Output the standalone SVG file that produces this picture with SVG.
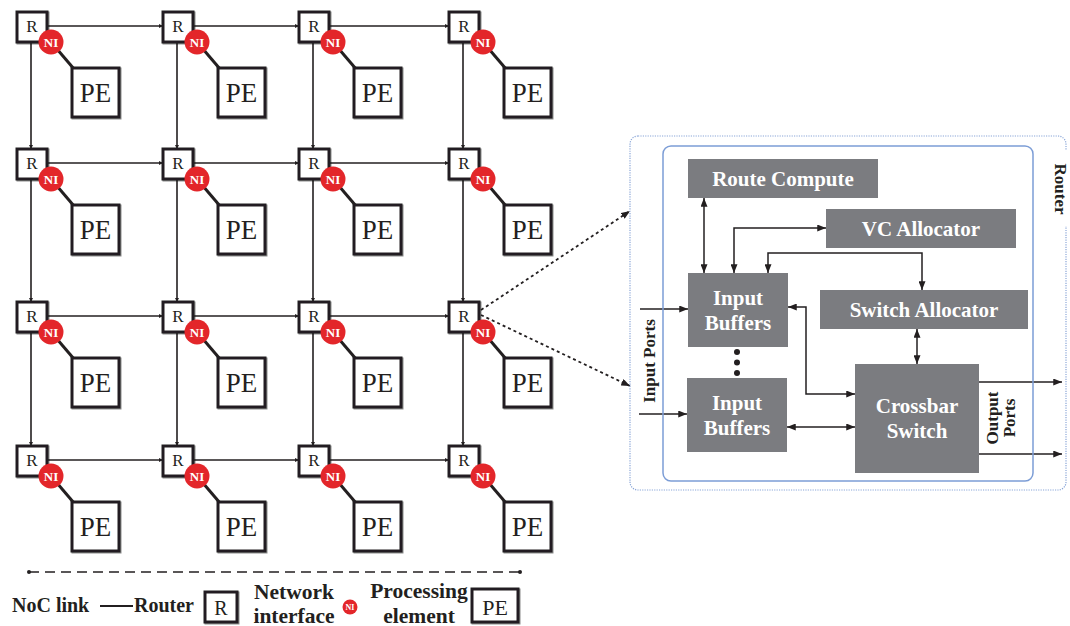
<svg xmlns="http://www.w3.org/2000/svg" width="1070" height="626" viewBox="0 0 1070 626">
<defs>
<style>
.box{fill:#fff;stroke:#231f20;stroke-width:3;filter:url(#sh)}
.lnk{stroke:#231f20;stroke-width:1.6;fill:none}
.niL{stroke:#231f20;stroke-width:3}
.ni{fill:#e3262a}
.r{font-family:"Liberation Serif",serif;font-size:17px;fill:#231f20;text-anchor:middle}
.pe{font-family:"Liberation Serif",serif;font-size:27px;fill:#231f20;text-anchor:middle}
.nit{font-family:"Liberation Serif",serif;font-size:13px;font-weight:bold;fill:#fff;text-anchor:middle}
.blk{fill:#7b7c80}
.bt{font-family:"Liberation Serif",serif;font-size:21px;font-weight:bold;fill:#fff;text-anchor:middle}
.arr{stroke:#231f20;stroke-width:1.5;fill:none;marker-end:url(#ah);marker-start:url(#ahs)}
.arr1{stroke:#231f20;stroke-width:1.5;fill:none;marker-end:url(#ah)}
.dot{stroke:#231f20;stroke-width:1.8;fill:none;stroke-dasharray:3 3;marker-end:url(#ah)}
.lbl{font-family:"Liberation Serif",serif;font-size:17px;font-weight:bold;fill:#231f20;text-anchor:middle}
.leg{font-family:"Liberation Serif",serif;font-size:20px;font-weight:bold;fill:#231f20}
.leg2{font-family:"Liberation Serif",serif;font-size:21.5px;font-weight:bold;fill:#231f20;text-anchor:middle}
</style>
<filter id="sh" x="-20%" y="-20%" width="140%" height="140%"><feDropShadow dx="1" dy="1" stdDeviation="0.7" flood-color="#000" flood-opacity="0.45"/></filter>
<marker id="ah" viewBox="0 0 10 8" refX="10" refY="4" markerWidth="9" markerHeight="7" markerUnits="userSpaceOnUse" orient="auto"><path d="M0,0 L10,4 L0,8 z" fill="#231f20"/></marker>
<marker id="ahs" viewBox="0 0 10 8" refX="0" refY="4" markerWidth="9" markerHeight="7" markerUnits="userSpaceOnUse" orient="auto"><path d="M10,0 L0,4 L10,8 z" fill="#231f20"/></marker>
<marker id="gm" viewBox="0 0 6 6" refX="6" refY="3" markerWidth="4" markerHeight="4" markerUnits="userSpaceOnUse" orient="auto"><path d="M0,0 L6,3 L0,6 z" fill="#231f20"/></marker>
</defs>
<rect width="1070" height="626" fill="#fff"/>

<g id="connectors">
<g class="lnk" marker-end="url(#gm)">
<line x1="47" y1="26" x2="163" y2="26"/><line x1="193" y1="26" x2="299" y2="26"/><line x1="329" y1="26" x2="449" y2="26"/>
<line x1="47" y1="163" x2="163" y2="163"/><line x1="193" y1="163" x2="299" y2="163"/><line x1="329" y1="163" x2="449" y2="163"/>
<line x1="47" y1="316" x2="163" y2="316"/><line x1="193" y1="316" x2="299" y2="316"/><line x1="329" y1="316" x2="449" y2="316"/>
<line x1="47" y1="460" x2="163" y2="460"/><line x1="193" y1="460" x2="299" y2="460"/><line x1="329" y1="460" x2="449" y2="460"/>
<line x1="31" y1="42" x2="31" y2="149"/><line x1="31" y1="179" x2="31" y2="302"/><line x1="31" y1="332" x2="31" y2="446"/>
<line x1="177" y1="42" x2="177" y2="149"/><line x1="177" y1="179" x2="177" y2="302"/><line x1="177" y1="332" x2="177" y2="446"/>
<line x1="313" y1="42" x2="313" y2="149"/><line x1="313" y1="179" x2="313" y2="302"/><line x1="313" y1="332" x2="313" y2="446"/>
<line x1="463" y1="42" x2="463" y2="149"/><line x1="463" y1="179" x2="463" y2="302"/><line x1="463" y1="332" x2="463" y2="446"/>
</g>
<path class="dot" d="M481,310 L630,211"/>
<path class="dot" d="M481,315 L630,386"/>
<path class="arr" d="M704,198 V273"/>
<path class="arr" d="M734,273 V228 H826"/>
<path class="arr" d="M768,273 V253 H922 V290"/>
<path class="arr" d="M917,329 V364"/>
<path class="arr" d="M788,307 H806 V394 H855"/>
<path class="arr" d="M787,427 H855"/>
<path class="arr1" d="M640,309 H688"/>
<path class="arr1" d="M639,414 H687"/>
<path class="arr1" d="M979,382 H1062"/>
<path class="arr1" d="M979,454 H1062"/>
</g>

<g id="tile-r1c1" transform="translate(17,12)"><line class="niL" x1="34" y1="30" x2="57" y2="57"/><rect class="box" x="55" y="56" width="47" height="49"/><text class="pe" x="78.5" y="90">PE</text><rect class="box" width="30" height="30"/><text class="r" x="15" y="20">R</text><circle class="ni" cx="34" cy="30" r="12.5"/><text class="nit" x="34" y="34.5">NI</text></g>
<g id="tile-r1c2" transform="translate(163,12)"><line class="niL" x1="34" y1="30" x2="57" y2="57"/><rect class="box" x="55" y="56" width="47" height="49"/><text class="pe" x="78.5" y="90">PE</text><rect class="box" width="30" height="30"/><text class="r" x="15" y="20">R</text><circle class="ni" cx="34" cy="30" r="12.5"/><text class="nit" x="34" y="34.5">NI</text></g>
<g id="tile-r1c3" transform="translate(299,12)"><line class="niL" x1="34" y1="30" x2="57" y2="57"/><rect class="box" x="55" y="56" width="47" height="49"/><text class="pe" x="78.5" y="90">PE</text><rect class="box" width="30" height="30"/><text class="r" x="15" y="20">R</text><circle class="ni" cx="34" cy="30" r="12.5"/><text class="nit" x="34" y="34.5">NI</text></g>
<g id="tile-r1c4" transform="translate(449,12)"><line class="niL" x1="34" y1="30" x2="57" y2="57"/><rect class="box" x="55" y="56" width="47" height="49"/><text class="pe" x="78.5" y="90">PE</text><rect class="box" width="30" height="30"/><text class="r" x="15" y="20">R</text><circle class="ni" cx="34" cy="30" r="12.5"/><text class="nit" x="34" y="34.5">NI</text></g>

<g id="tile-r2c1" transform="translate(17,149)"><line class="niL" x1="34" y1="30" x2="57" y2="57"/><rect class="box" x="55" y="56" width="47" height="49"/><text class="pe" x="78.5" y="90">PE</text><rect class="box" width="30" height="30"/><text class="r" x="15" y="20">R</text><circle class="ni" cx="34" cy="30" r="12.5"/><text class="nit" x="34" y="34.5">NI</text></g>
<g id="tile-r2c2" transform="translate(163,149)"><line class="niL" x1="34" y1="30" x2="57" y2="57"/><rect class="box" x="55" y="56" width="47" height="49"/><text class="pe" x="78.5" y="90">PE</text><rect class="box" width="30" height="30"/><text class="r" x="15" y="20">R</text><circle class="ni" cx="34" cy="30" r="12.5"/><text class="nit" x="34" y="34.5">NI</text></g>
<g id="tile-r2c3" transform="translate(299,149)"><line class="niL" x1="34" y1="30" x2="57" y2="57"/><rect class="box" x="55" y="56" width="47" height="49"/><text class="pe" x="78.5" y="90">PE</text><rect class="box" width="30" height="30"/><text class="r" x="15" y="20">R</text><circle class="ni" cx="34" cy="30" r="12.5"/><text class="nit" x="34" y="34.5">NI</text></g>
<g id="tile-r2c4" transform="translate(449,149)"><line class="niL" x1="34" y1="30" x2="57" y2="57"/><rect class="box" x="55" y="56" width="47" height="49"/><text class="pe" x="78.5" y="90">PE</text><rect class="box" width="30" height="30"/><text class="r" x="15" y="20">R</text><circle class="ni" cx="34" cy="30" r="12.5"/><text class="nit" x="34" y="34.5">NI</text></g>

<g id="tile-r3c1" transform="translate(17,302)"><line class="niL" x1="34" y1="30" x2="57" y2="57"/><rect class="box" x="55" y="56" width="47" height="49"/><text class="pe" x="78.5" y="90">PE</text><rect class="box" width="30" height="30"/><text class="r" x="15" y="20">R</text><circle class="ni" cx="34" cy="30" r="12.5"/><text class="nit" x="34" y="34.5">NI</text></g>
<g id="tile-r3c2" transform="translate(163,302)"><line class="niL" x1="34" y1="30" x2="57" y2="57"/><rect class="box" x="55" y="56" width="47" height="49"/><text class="pe" x="78.5" y="90">PE</text><rect class="box" width="30" height="30"/><text class="r" x="15" y="20">R</text><circle class="ni" cx="34" cy="30" r="12.5"/><text class="nit" x="34" y="34.5">NI</text></g>
<g id="tile-r3c3" transform="translate(299,302)"><line class="niL" x1="34" y1="30" x2="57" y2="57"/><rect class="box" x="55" y="56" width="47" height="49"/><text class="pe" x="78.5" y="90">PE</text><rect class="box" width="30" height="30"/><text class="r" x="15" y="20">R</text><circle class="ni" cx="34" cy="30" r="12.5"/><text class="nit" x="34" y="34.5">NI</text></g>
<g id="tile-r3c4" transform="translate(449,302)"><line class="niL" x1="34" y1="30" x2="57" y2="57"/><rect class="box" x="55" y="56" width="47" height="49"/><text class="pe" x="78.5" y="90">PE</text><rect class="box" width="30" height="30"/><text class="r" x="15" y="20">R</text><circle class="ni" cx="34" cy="30" r="12.5"/><text class="nit" x="34" y="34.5">NI</text></g>

<g id="tile-r4c1" transform="translate(17,446)"><line class="niL" x1="34" y1="30" x2="57" y2="57"/><rect class="box" x="55" y="56" width="47" height="49"/><text class="pe" x="78.5" y="90">PE</text><rect class="box" width="30" height="30"/><text class="r" x="15" y="20">R</text><circle class="ni" cx="34" cy="30" r="12.5"/><text class="nit" x="34" y="34.5">NI</text></g>
<g id="tile-r4c2" transform="translate(163,446)"><line class="niL" x1="34" y1="30" x2="57" y2="57"/><rect class="box" x="55" y="56" width="47" height="49"/><text class="pe" x="78.5" y="90">PE</text><rect class="box" width="30" height="30"/><text class="r" x="15" y="20">R</text><circle class="ni" cx="34" cy="30" r="12.5"/><text class="nit" x="34" y="34.5">NI</text></g>
<g id="tile-r4c3" transform="translate(299,446)"><line class="niL" x1="34" y1="30" x2="57" y2="57"/><rect class="box" x="55" y="56" width="47" height="49"/><text class="pe" x="78.5" y="90">PE</text><rect class="box" width="30" height="30"/><text class="r" x="15" y="20">R</text><circle class="ni" cx="34" cy="30" r="12.5"/><text class="nit" x="34" y="34.5">NI</text></g>
<g id="tile-r4c4" transform="translate(449,446)"><line class="niL" x1="34" y1="30" x2="57" y2="57"/><rect class="box" x="55" y="56" width="47" height="49"/><text class="pe" x="78.5" y="90">PE</text><rect class="box" width="30" height="30"/><text class="r" x="15" y="20">R</text><circle class="ni" cx="34" cy="30" r="12.5"/><text class="nit" x="34" y="34.5">NI</text></g>

<g id="router-detail">
<rect x="630" y="136" width="436" height="354" rx="8" fill="none" stroke="#8aa6d8" stroke-width="1.2" stroke-dasharray="1.2 1.2"/>
<rect x="663" y="146" width="370" height="335" rx="8" fill="none" stroke="#7c9dd6" stroke-width="1.5"/>
<rect x="1052" y="150" width="18" height="76" fill="#fff"/>
<text class="lbl" transform="translate(1055,189) rotate(90)" style="font-size:17px">Router</text>
</g>

<g id="route-compute"><rect class="blk" x="688" y="159" width="190" height="39"/><text class="bt" x="783" y="186">Route Compute</text></g>
<g id="vc-allocator"><rect class="blk" x="826" y="209" width="190" height="39"/><text class="bt" x="921" y="236">VC Allocator</text></g>
<g id="input-buffers-1"><rect class="blk" x="688" y="273" width="100" height="74"/><text class="bt" x="738" y="305">Input</text><text class="bt" x="738" y="330">Buffers</text></g>
<g id="switch-allocator"><rect class="blk" x="820" y="290" width="208" height="39"/><text class="bt" x="924" y="317">Switch Allocator</text></g>
<g id="dots"><circle cx="737" cy="352" r="3" fill="#231f20"/><circle cx="737" cy="362.5" r="3" fill="#231f20"/><circle cx="737" cy="373" r="3" fill="#231f20"/></g>
<g id="input-buffers-2"><rect class="blk" x="687" y="378" width="100" height="74"/><text class="bt" x="737" y="410">Input</text><text class="bt" x="737" y="435">Buffers</text></g>
<g id="crossbar"><rect class="blk" x="855" y="364" width="124" height="109"/><text class="bt" x="917" y="413">Crossbar</text><text class="bt" x="917" y="438">Switch</text></g>
<g id="input-ports-label"><text class="lbl" transform="translate(655,361) rotate(-90)">Input Ports</text></g>
<g id="output-ports-label"><text class="lbl" transform="translate(998,418) rotate(-90)">Output</text><text class="lbl" transform="translate(1015,418) rotate(-90)">Ports</text></g>

<g id="legend">
<line x1="29" y1="572" x2="520" y2="572" stroke="#231f20" stroke-width="1.6" stroke-dasharray="10 6"/>
<circle cx="29" cy="572" r="2" fill="#231f20"/><circle cx="520" cy="572" r="2" fill="#231f20"/>
<text class="leg" x="12" y="612">NoC link</text>
<line x1="100" y1="606" x2="133" y2="606" stroke="#231f20" stroke-width="2"/>
<text class="leg" x="134" y="612">Router</text>
<rect class="box" x="205" y="592" width="32" height="30"/><text class="r" x="221" y="614.5" style="font-size:20px">R</text>
<text class="leg2" x="294" y="599">Network</text>
<text class="leg2" x="294" y="623">interface</text>
<circle class="ni" cx="350" cy="607" r="7.5"/><text class="nit" x="350" y="610" style="font-size:8px">NI</text>
<text class="leg2" x="419" y="598">Processing</text>
<text class="leg2" x="419" y="623">element</text>
<rect class="box" x="472" y="589" width="46" height="33"/><text class="pe" x="495" y="615" style="font-size:22px">PE</text>
</g>
</svg>
